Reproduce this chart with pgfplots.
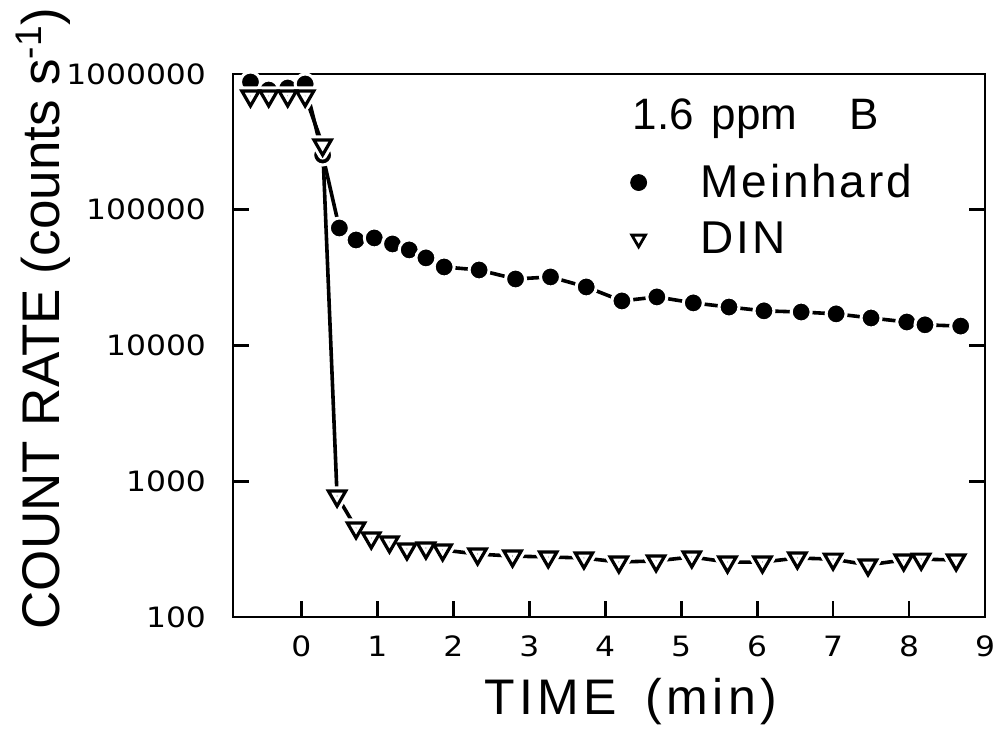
\documentclass[border=0pt]{standalone}
\usepackage{fontspec}
\setmainfont{Liberation Sans}
\newfontfamily\tickfont{DejaVu Sans}
\usepackage{graphicx}
\usepackage{pgfplots}
\usepackage{pgfplotstable}
\pgfplotsset{compat=1.18}
\usetikzlibrary{calc}

\newcommand{\tk}[1]{\scalebox{1.12}[1]{\tickfont\fontsize{14}{17}\selectfont #1}}

% count rate vs time
\pgfplotstableread{
t     rate
-0.67 873000
-0.43 762000
-0.18 789000
0.05  844000
0.28  253000
0.50  73400
0.72  59900
0.96  62000
1.20  56000
1.42  50600
1.64  44200
1.88  37900
2.34  36000
2.82  30900
3.28  32000
3.75  27000
4.22  21300
4.68  22800
5.16  20600
5.63  19200
6.09  18000
6.58  17650
7.04  17100
7.50  15950
7.97  14900
8.21  14200
8.68  13900
}\meinhard

\pgfplotstableread{
t     rate
-0.67 689000
-0.43 689000
-0.18 689000
0.05  689000
0.28  300000
0.47  778
0.72  453
0.92  382
1.16  357
1.39  317
1.64  322
1.86  312
2.32  291
2.78  281
3.25  277
3.72  272
4.18  254
4.67  259
5.14  277
5.61  254
6.07  254
6.53  272
7.00  267
7.46  242
7.93  263
8.16  267
8.62  263
}\din

\begin{document}
\begin{tikzpicture}
\begin{axis}[
  scale only axis,
  width=376pt, height=271.5pt,
  xmin=-0.9, xmax=9,
  ymode=log, ymin=100, ymax=1000000,
  xtick={0,1,...,9},
  xticklabels={\tk{0},\tk{1},\tk{2},\tk{3},\tk{4},\tk{5},\tk{6},\tk{7},\tk{8},\tk{9}},
  ytick={100,1000,10000,100000,1000000},
  yticklabels={\tk{100},\tk{1000},\tk{10000},\tk{100000},\tk{1000000}},
  yminorticks=false,
  tick align=inside,
  xtick pos=left,
  major tick length=8pt,
  axis on top,
  axis line style={line width=1.4pt},
  every tick/.style={black, line width=1.4pt},
  yticklabel style={xshift=-10pt},
  xticklabel style={yshift=-6pt},
  xlabel={TIME\hspace{14pt}(min)},
  xlabel style={font=\fontsize{25}{30}\selectfont\addfontfeature{LetterSpace=9},
    at={(axis description cs:0.529,-0.180)}, anchor=base},
  ylabel={COUNT RATE (counts s\textsuperscript{-1})},
  ylabel style={font=\fontsize{26.5}{32}\selectfont,
    at={(axis description cs:-0.231,0.55)}, anchor=base},
  clip=false,
  legend image code/.code={
    \draw[#1] plot coordinates {(0.25cm,0cm)};
    \path[draw=none, fill=none] (0cm,-0.05cm) rectangle (1.27cm,0.05cm);
  },
  legend style={draw=none, fill=none,
    font=\fontsize{23}{27}\selectfont\addfontfeature{LetterSpace=6},
    at={(axis description cs:0.512,0.849)}, anchor=north west,
    row sep=6.5pt},
  legend cell align=left,
]
  % Meinhard: black dots with a thin white ring, so the joining line stops short
  \addplot[black, line width=1.8pt, mark=*, mark size=5pt,
    mark options={solid, fill=black, draw=white, line width=1.5pt}, forget plot]
    table[x=t, y=rate] {\meinhard};
  % DIN: white halo first, then the open triangles
  \addplot[black, line width=1.8pt, mark=triangle, mark size=5pt,
    mark options={solid, fill=white, draw=white, line width=4.6pt,
      line join=round, rotate=180}, forget plot]
    table[x=t, y=rate] {\din};
  \addplot[only marks, black, mark=triangle, mark size=5pt,
    mark options={solid, fill=white, line width=1.6pt, rotate=180}, forget plot]
    table[x=t, y=rate] {\din};

  \addlegendimage{only marks, mark=*, mark size=4pt, fill=black}
  \addlegendentry{Meinhard}
  \addlegendimage{only marks, mark=triangle, mark size=3.9pt,
    mark options={fill=white, line width=1.4pt, rotate=180}}
  \addlegendentry{DIN}

  \node[anchor=base west, font=\fontsize{22}{26}\selectfont, inner sep=0pt]
    at (axis description cs:0.531,0.897) {1.6\hspace{9pt}ppm\hspace{26pt}B};

  \coordinate (ll) at (rel axis cs:0,0);
  \coordinate (ur) at (rel axis cs:1,1);
\end{axis}
\pgfresetboundingbox
\path[use as bounding box] ($(ll)+(-116.5pt,-56.5pt)$) rectangle ($(ur)+(4.5pt,37pt)$);
\end{tikzpicture}
\end{document}
